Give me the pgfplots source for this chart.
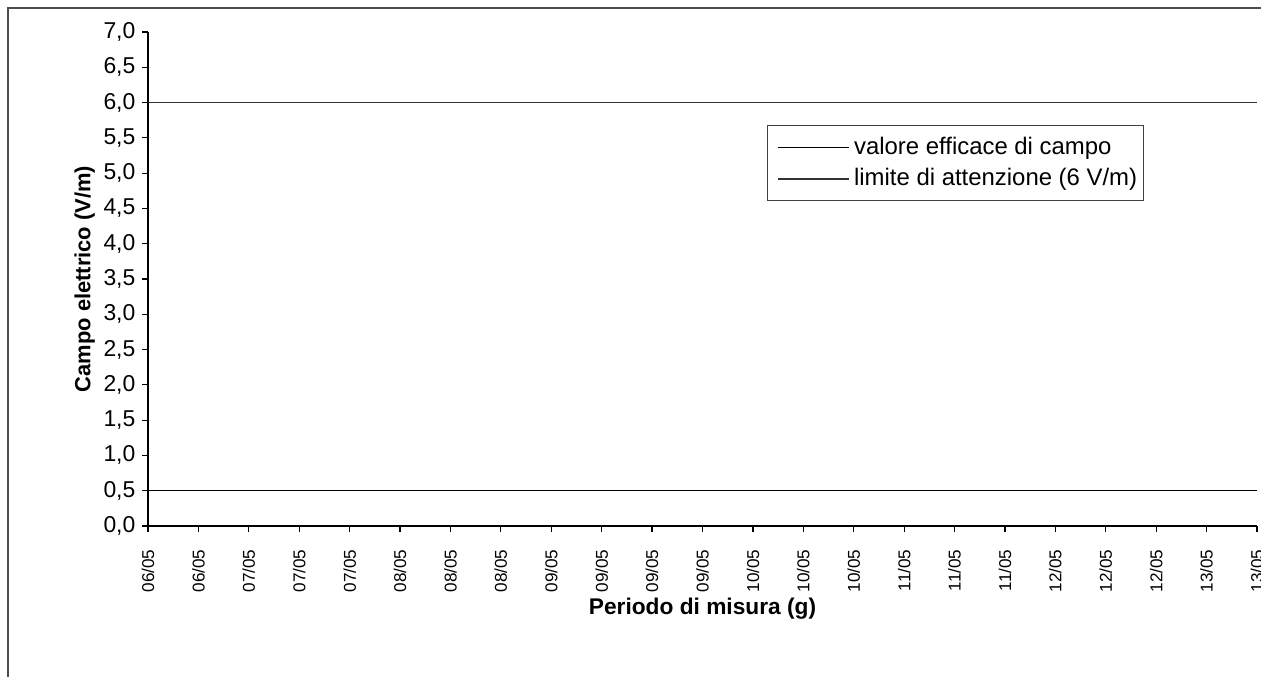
\documentclass[border=0pt]{standalone}
\usepackage{pgfplots}
\pgfplotsset{compat=1.18}
\usepackage{fontspec}
\setmainfont{Liberation Sans}
\begin{document}
\begin{tikzpicture}
\draw[black!70, line width=0.7bp] (4bp,-5bp) -- (4bp,334.5bp) -- (640bp,334.5bp);
\begin{axis}[
  at={(74bp,75.5bp)}, anchor=south west,
  scale only axis, width=554.5bp, height=247bp,
  xmin=0, xmax=22, ymin=0, ymax=7,
  axis x line=bottom, axis y line=left,
  axis line style={-, line width=0.7bp, black},
  tick align=outside, major tick length=2.8bp,
  tick style={line width=0.6bp, black},
  xtick={0,...,22},
  xticklabels={06/05,06/05,07/05,07/05,07/05,08/05,08/05,08/05,09/05,09/05,09/05,09/05,10/05,10/05,10/05,11/05,11/05,11/05,12/05,12/05,12/05,13/05,13/05},
  x tick label style={rotate=90, anchor=east, font=\fontsize{8.6}{10}\selectfont, xshift=-5.5bp},
  ytick={0,0.5,1,1.5,2,2.5,3,3.5,4,4.5,5,5.5,6,6.5,7},
  y tick label style={font=\fontsize{11.5}{13}\selectfont},
  /pgf/number format/.cd, assume math mode=true, use comma, fixed, fixed zerofill, precision=1,
  /pgfplots/.cd,
  xlabel={\textbf{Periodo di misura (g)}},
  ylabel={\textbf{Campo elettrico (V/m)}},
  xlabel style={font=\fontsize{11.4}{13}\selectfont, yshift=4bp},
  ylabel style={font=\fontsize{11}{13}\selectfont, yshift=-2.5bp},
  legend style={at={(0.558,0.812)}, anchor=north west, draw=black!75, line width=0.5bp,
    font=\fontsize{12}{14}\selectfont, inner xsep=1bp, inner ysep=4bp,
    row sep=1.5bp, cells={anchor=west}},
  legend image code/.code={\path (-4bp,0bp); \draw[#1] (0bp,0bp) -- (35.5bp,0bp);},
  clip=false,
]
\addplot[black, line width=0.7bp] coordinates {(0,0.5) (2,0.5) (4,0.5) (6,0.5) (8,0.5) (10,0.5) (12,0.5) (14,0.5) (16,0.5) (18,0.5) (20,0.5) (22,0.5)};
\addlegendentry{valore efficace di campo}
\addplot[black!80, line width=0.9bp] coordinates {(0,6) (22,6)};
\addlegendentry{limite di attenzione (6 V/m)}
\end{axis}
\pgfresetboundingbox
\path[use as bounding box] (0,0) rectangle (630.5bp,338.5bp);
\end{tikzpicture}
\end{document}
